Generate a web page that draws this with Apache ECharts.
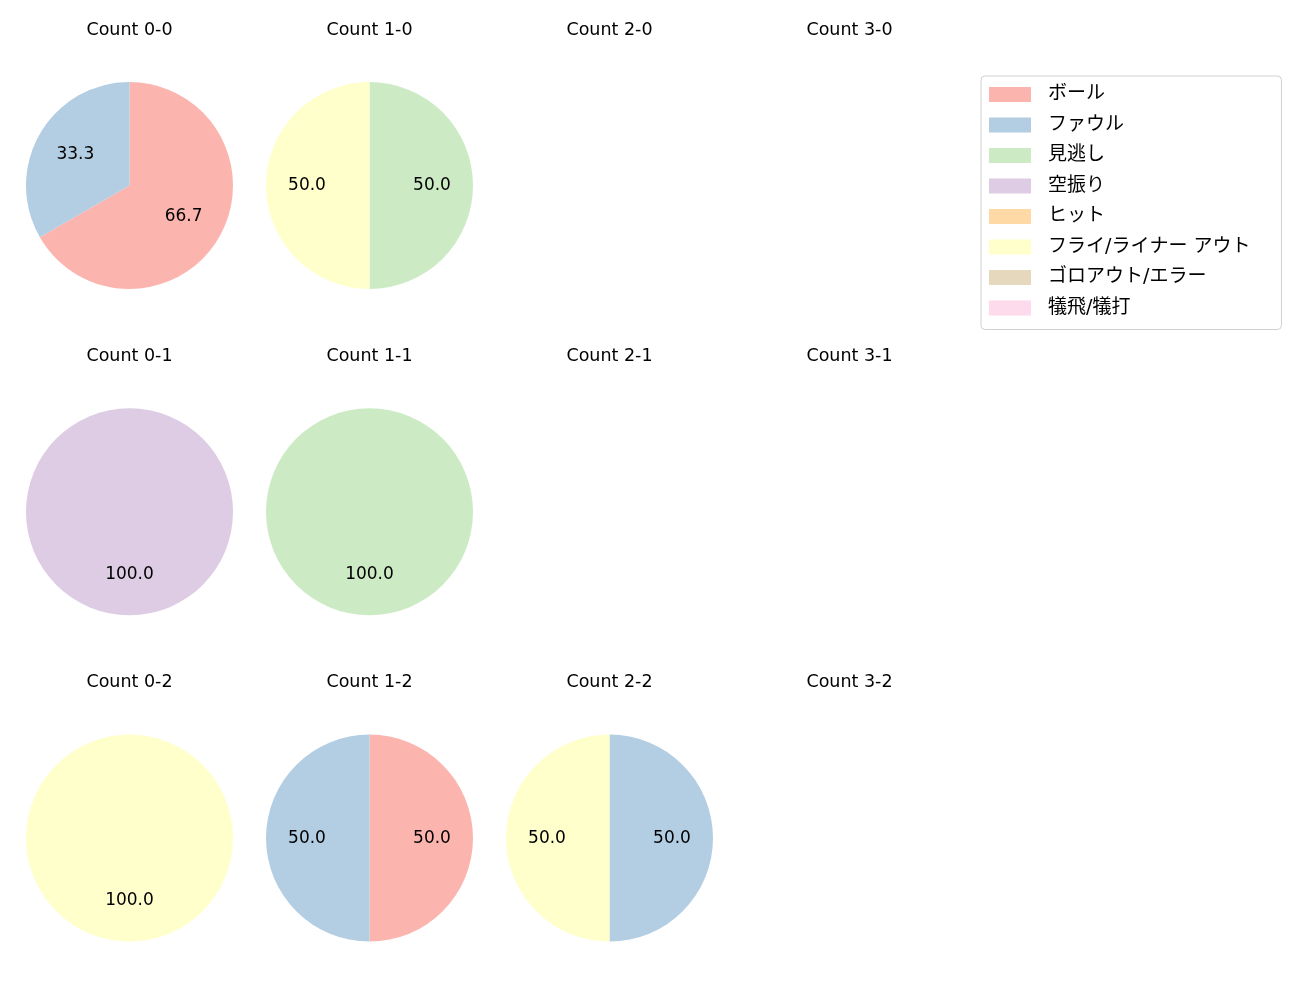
<!DOCTYPE html>
<html><head><meta charset="utf-8">
<script src="https://cdn.jsdelivr.net/npm/echarts@6/dist/echarts.min.js"></script>
<style>html,body{margin:0;padding:0;background:#fff}#c{width:1300px;height:1000px}</style>
</head><body><div id="c"></div>
<script>
const counts = ['0-0','1-0','2-0','3-0','0-1','1-1','2-1','3-1','0-2','1-2','2-2','3-2'];
const categories = ['ボール','ファウル','見逃し','空振り','ヒット','フライ/ライナー アウト','ゴロアウト/エラー','犠飛/犠打'];
const colors = ['#fbb4ae','#b3cde3','#ccebc5','#decbe4','#fed9a6','#ffffcc','#e5d8bd','#fddaec'];
// values per category, in the order of counts
const ball      = [2,0,0,0, 0,0,0,0, 0,1,0,0];
const foul      = [1,0,0,0, 0,0,0,0, 0,1,1,0];
const minogashi = [0,1,0,0, 0,1,0,0, 0,0,0,0];
const karaburi  = [0,0,0,0, 1,0,0,0, 0,0,0,0];
const hit       = [0,0,0,0, 0,0,0,0, 0,0,0,0];
const fly       = [0,1,0,0, 0,0,0,0, 1,0,1,0];
const goro      = [0,0,0,0, 0,0,0,0, 0,0,0,0];
const gisei     = [0,0,0,0, 0,0,0,0, 0,0,0,0];
const valuesByCat = [ball, foul, minogashi, karaburi, hit, fly, goro, gisei];

const FONT = '"DejaVu Sans", "Noto Sans CJK JP", sans-serif';
const R = 103.5;
const titles = [], series = [];
counts.forEach((c, i) => {
  const col = i % 4, row = Math.floor(i / 4);
  const cx = 129.5 + 240 * col, cy = 185.5 + 326.3 * row;
  titles.push({text: 'Count ' + c, left: cx, top: cy - 155.5, textAlign: 'center', textVerticalAlign: 'middle',
    padding: 0, textStyle: {fontFamily: FONT, fontSize: 17.5, fontWeight: 'normal', color: '#000'}});
  const data = [];
  categories.forEach((name, k) => {
    const v = valuesByCat[k][i];
    if (v > 0) data.push({name, value: v, itemStyle: {color: colors[k]}});
  });
  if (!data.length) return;
  series.push({type: 'pie', center: [cx, cy], radius: [0, R], startAngle: 90, clockwise: true,
    silent: true, animation: false, label: {show: false}, labelLine: {show: false},
    itemStyle: {borderWidth: 0}, data});
  series.push({type: 'pie', center: [cx, cy], radius: [0, R * 1.15], startAngle: 90, clockwise: true,
    silent: true, animation: false, percentPrecision: 1, z: 5,
    itemStyle: {color: 'rgba(0,0,0,0)', borderWidth: 0},
    label: {show: true, position: 'inside', fontFamily: FONT, fontSize: 17, color: '#000',
      formatter: p => p.percent.toFixed(1)},
    labelLine: {show: false},
    data: data.map(d => ({name: d.name, value: d.value, itemStyle: {color: 'rgba(0,0,0,0)'}}))});
});
// legend carrier (invisible)
series.push({type: 'pie', radius: 0, center: [-100, -100], silent: true, animation: false,
  label: {show: false}, data: categories.map((n, k) => ({name: n, value: 1, itemStyle: {color: colors[k]}}))});

const chart = echarts.init(document.getElementById('c'), null, {renderer: 'canvas'});
chart.setOption({
  backgroundColor: '#fff',
  title: titles,
  legend: {orient: 'vertical', left: 981, top: 76, data: categories, selectedMode: false,
    icon: 'rect', itemWidth: 42, itemHeight: 15, itemGap: 11.5,
    padding: [9, 31, 12, 8], backgroundColor: '#fff', borderColor: '#d0d0d0', borderWidth: 1, borderRadius: 4,
    textStyle: {fontFamily: FONT, fontSize: 19, color: '#000', padding: [0, 0, 0, 12], lineHeight: 16}},
  series
});
</script></body></html>
